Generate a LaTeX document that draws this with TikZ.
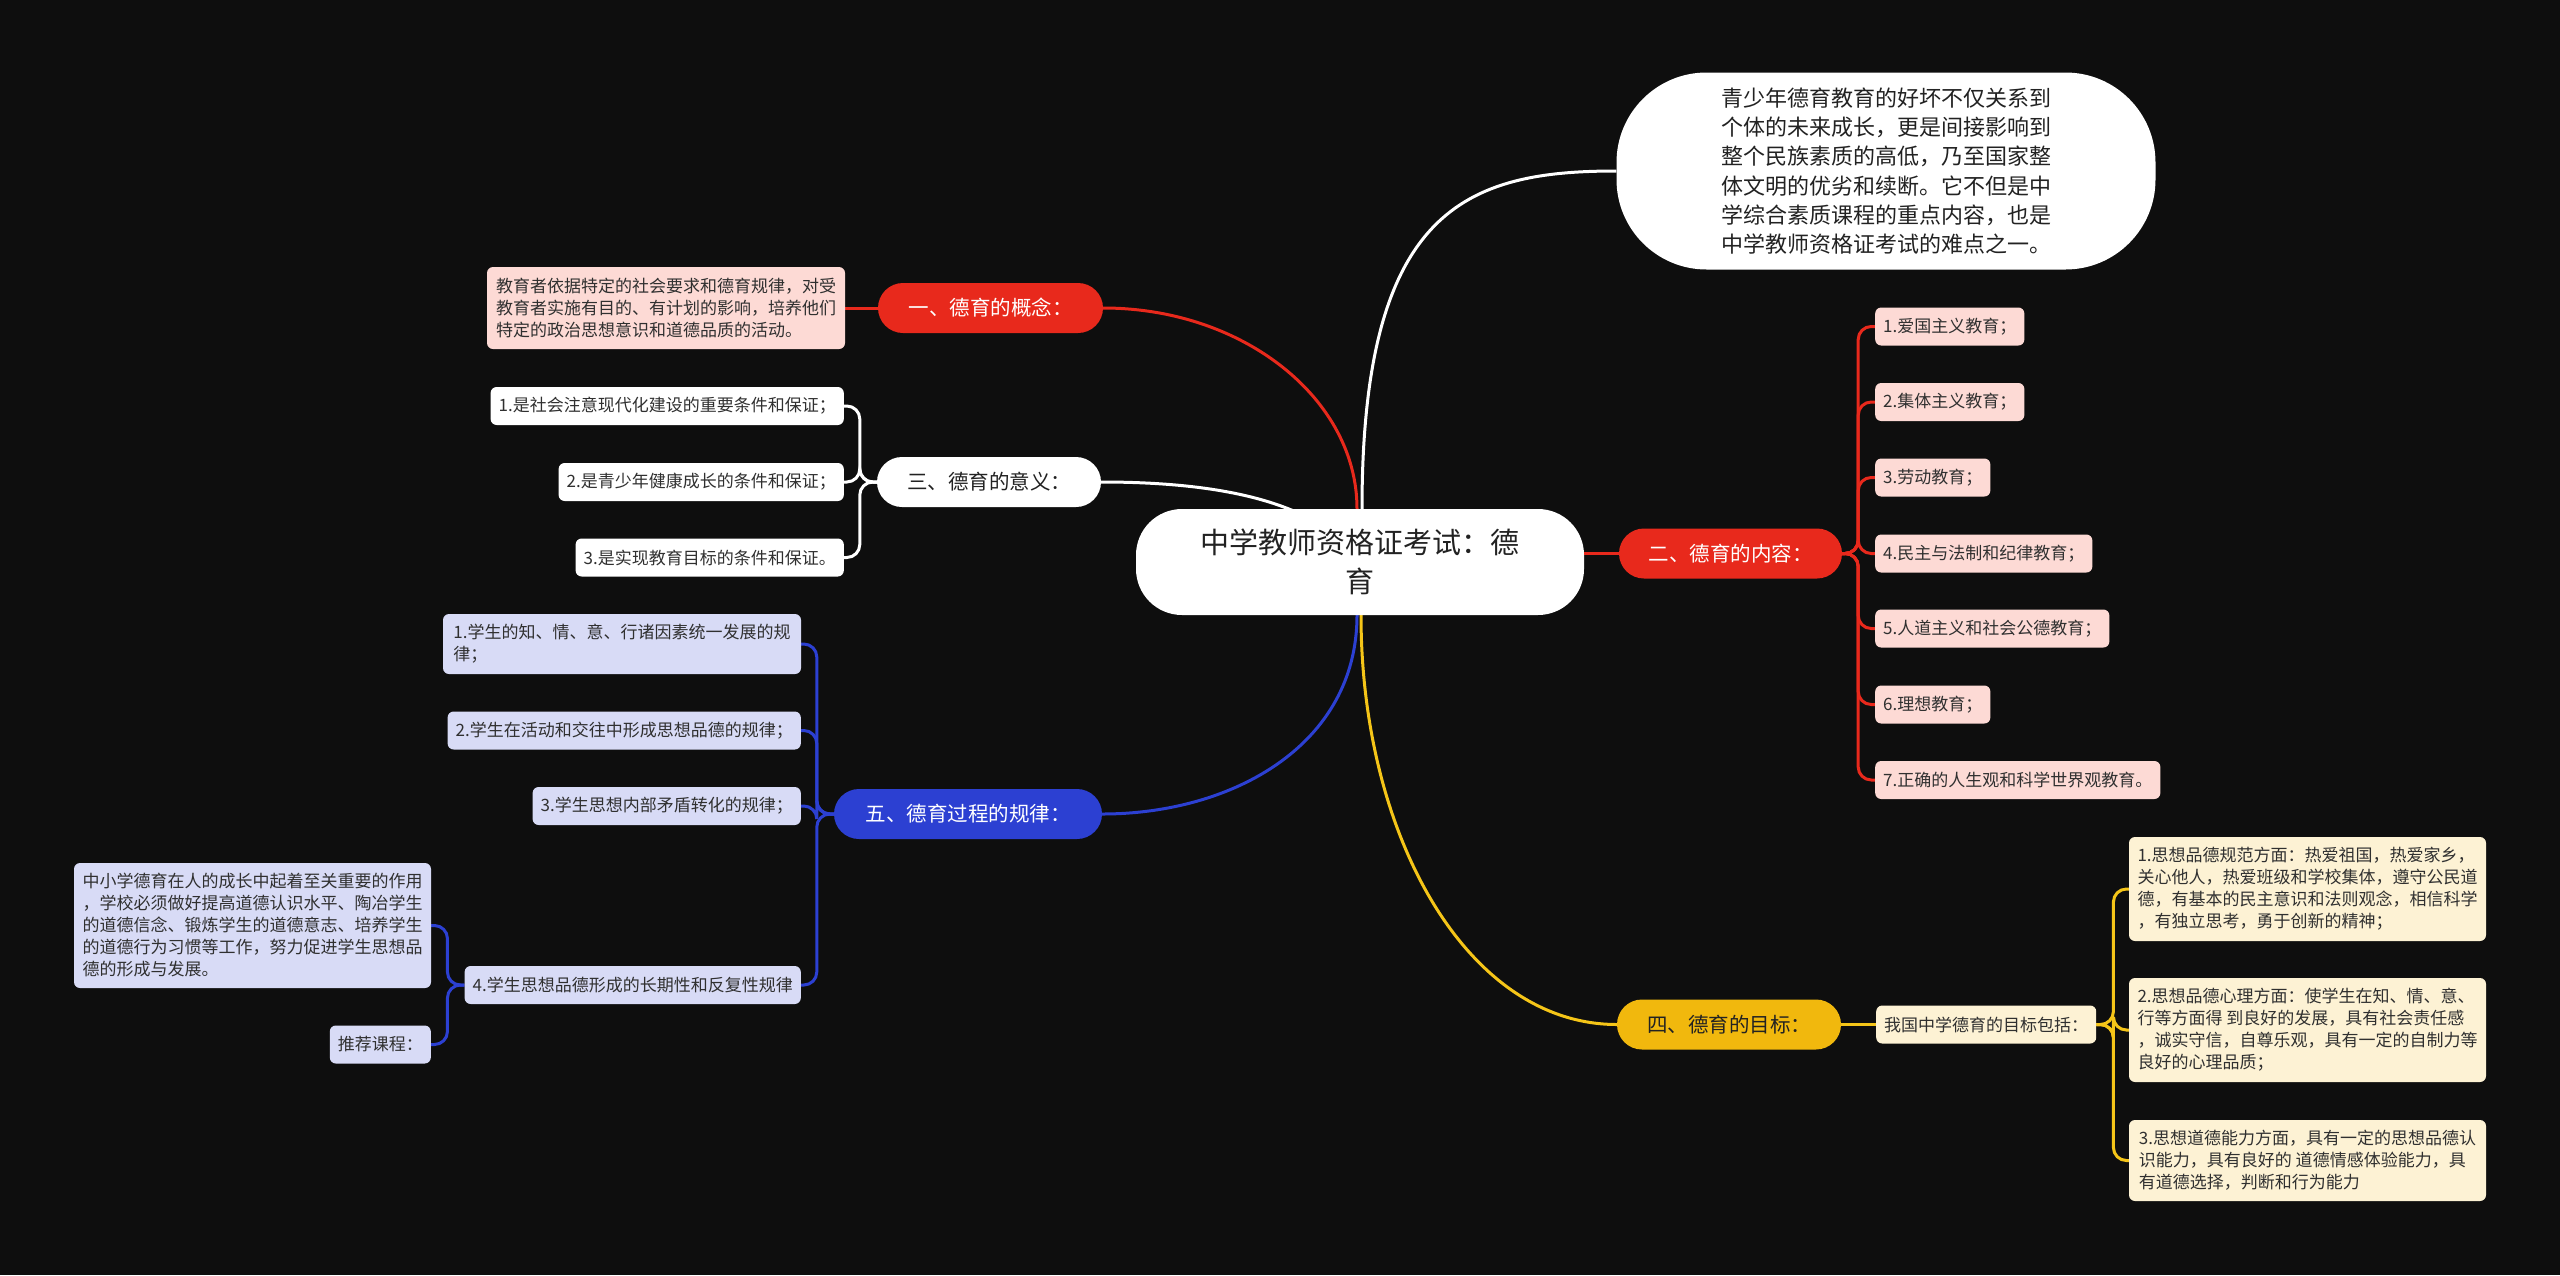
\documentclass[tikz,border=0pt]{standalone}
\usepackage{fontspec}
\setmainfont{Noto Sans CJK SC}
\usetikzlibrary{calc}
\definecolor{bgc}{HTML}{0E0E0E}
\definecolor{redone}{HTML}{E8291C}
\definecolor{pinkone}{HTML}{FDDAD5}
\definecolor{blueone}{HTML}{2C40D2}
\definecolor{lavone}{HTML}{D8DBF6}
\definecolor{goldone}{HTML}{F1B80D}
\definecolor{creamone}{HTML}{FDF2D4}
\definecolor{txtdark}{HTML}{222222}
\definecolor{txtbox}{HTML}{303030}
\definecolor{lnyellow}{HTML}{F5C518}
\pgfdeclarelayer{bglayer}
\pgfdeclarelayer{linelayer}
\pgfsetlayers{bglayer,linelayer,main}
\newcommand\mylink[4]{\draw[#1, rounded corners=13pt] (#2) -- ($(#2)+(#4,0)$) |- (#3);}
\begin{document}
\begin{tikzpicture}[x=1pt,y=-1pt,
  rootnode/.style={fill=white, text=txtdark, rounded corners=46pt, minimum width=448pt, minimum height=106pt, inner sep=0pt, align=center, font=\fontsize{29}{39}\selectfont},
  topnode/.style={fill=white, text=txtdark, rounded corners=90pt, minimum width=539pt, minimum height=197pt, inner sep=0pt, align=left, font=\fontsize{22}{29.3}\selectfont},
  lvone/.style={rounded corners=25pt, minimum height=50pt, inner sep=0pt, font=\fontsize{20.5}{24}\selectfont},
  leaf/.style={rounded corners=6pt, inner xsep=8pt, inner ysep=0pt, minimum height=38pt, align=left, text=txtbox, font=\fontsize{17}{22}\selectfont},
  lnred/.style={draw=redone, line width=3pt},
  lnwhite/.style={draw=white, line width=3pt},
  lnblue/.style={draw=blueone, line width=3pt},
  lngold/.style={draw=lnyellow, line width=3pt}
]
\useasboundingbox (0,0) rectangle (2560,1275);
\begin{pgfonlayer}{bglayer}
\fill[bgc] (0,0) rectangle (2560,1275);
\end{pgfonlayer}

% root and top note
\node[rootnode] (root) at (1360,562) {中学教师资格证考试：德\\育};
\node[topnode] (top) at (1886,171) {青少年德育教育的好坏不仅关系到\\个体的未来成长，更是间接影响到\\整个民族素质的高低，乃至国家整\\体文明的优劣和续断。它不但是中\\学综合素质课程的重点内容，也是\\中学教师资格证考试的难点之一。};

% level one
\node[lvone, fill=redone, text=white, minimum width=225pt] (yi) at (990.5,308) {一、德育的概念：};
\node[lvone, fill=white, text=txtdark, minimum width=224pt] (san) at (989,482) {三、德育的意义：};
\node[lvone, fill=blueone, text=white, minimum width=268pt] (wu) at (968,814) {五、德育过程的规律：};
\node[lvone, fill=redone, text=white, minimum width=223pt] (er) at (1730.5,553.5) {二、德育的内容：};
\node[lvone, fill=goldone, text=txtdark, minimum width=224pt] (si) at (1729,1024.5) {四、德育的目标：};

% concept
\node[leaf, fill=pinkone, minimum width=358pt, minimum height=82pt] (pk) at (666,308) {教育者依据特定的社会要求和德育规律，对受\\教育者实施有目的、有计划的影响，培养他们\\特定的政治思想意识和道德品质的活动。};

% meaning
\node[leaf, fill=white, anchor=east] (ma) at (844,406) {1.是社会注意现代化建设的重要条件和保证；};
\node[leaf, fill=white, anchor=east] (mb) at (844,482) {2.是青少年健康成长的条件和保证；};
\node[leaf, fill=white, anchor=east] (mc) at (844,557.5) {3.是实现教育目标的条件和保证。};

% content
\node[leaf, fill=pinkone, anchor=west] (ca) at (1875,326.5) {1.爱国主义教育；};
\node[leaf, fill=pinkone, anchor=west] (cb) at (1875,402) {2.集体主义教育；};
\node[leaf, fill=pinkone, anchor=west] (cc) at (1875,477.5) {3.劳动教育；};
\node[leaf, fill=pinkone, anchor=west] (cd) at (1875,553.5) {4.民主与法制和纪律教育；};
\node[leaf, fill=pinkone, anchor=west] (ce) at (1875,628.5) {5.人道主义和社会公德教育；};
\node[leaf, fill=pinkone, anchor=west] (cf) at (1875,704.5) {6.理想教育；};
\node[leaf, fill=pinkone, anchor=west] (cg) at (1875,780) {7.正确的人生观和科学世界观教育。};

% process laws
\node[leaf, fill=lavone, minimum width=358pt, minimum height=60pt] (wa) at (622,644) {1.学生的知、情、意、行诸因素统一发展的规\\律；};
\node[leaf, fill=lavone, anchor=east] (wb) at (801,730.5) {2.学生在活动和交往中形成思想品德的规律；};
\node[leaf, fill=lavone, anchor=east] (wc) at (801,806) {3.学生思想内部矛盾转化的规律；};
\node[leaf, fill=lavone, anchor=east] (wd) at (801,985) {4.学生思想品德形成的长期性和反复性规律};
\node[leaf, fill=lavone, minimum width=357pt, minimum height=125pt] (wda) at (252.5,925.5) {中小学德育在人的成长中起着至关重要的作用\\，学校必须做好提高道德认识水平、陶冶学生\\的道德信念、锻炼学生的道德意志、培养学生\\的道德行为习惯等工作，努力促进学生思想品\\德的形成与发展。};
\node[leaf, fill=lavone, anchor=east] (wdb) at (431,1044.5) {推荐课程：};

% goals
\node[leaf, fill=creamone, anchor=west] (ga) at (1876,1024.5) {我国中学德育的目标包括：};
\node[leaf, fill=creamone, minimum width=357pt, minimum height=104pt] (gb) at (2307.5,889) {1.思想品德规范方面：热爱祖国，热爱家乡，\\关心他人，热爱班级和学校集体，遵守公民道\\德，有基本的民主意识和法则观念，相信科学\\，有独立思考，勇于创新的精神；};
\node[leaf, fill=creamone, minimum width=357pt, minimum height=104pt] (gc) at (2307.5,1030) {2.思想品德心理方面：使学生在知、情、意、\\行等方面得~到良好的发展，具有社会责任感\\，诚实守信，自尊乐观，具有一定的自制力等\\良好的心理品质；};
\node[leaf, fill=creamone, minimum width=357pt, minimum height=81pt] (gd) at (2307.5,1160.5) {3.思想道德能力方面，具有一定的思想品德认\\识能力，具有良好的~道德情感体验能力，具\\有道德选择，判断和行为能力};

\begin{pgfonlayer}{linelayer}
% main branches
\draw[lnred] ($(root.north)+(-3,0)$) .. controls ($(root.north)+(-3,-110)$) and ($(yi.east)+(140,0)$) .. (yi.east);
\draw[lnwhite] ($(root.north)+(2,0)$) .. controls ($(root.north)+(2,-300)$) and ($(top.west)+(-150,0)$) .. (top.west);
\draw[lnwhite] (root.center) .. controls ($(root.center)+(-40,-60)$) and ($(san.east)+(120,0)$) .. (san.east);
\draw[lnred] (er.west) -- (er.west -| root.center);
\draw[lnblue] ($(root.south)+(-3,0)$) .. controls ($(root.south)+(-3,130)$) and ($(wu.east)+(130,0)$) .. (wu.east);
\draw[lngold] ($(root.south)+(1,0)$) .. controls ($(root.south)+(1,220)$) and ($(si.west)+(-150,0)$) .. (si.west);
% concept
\draw[lnred] (yi.west) -- (pk.east);
% meaning
\mylink{lnwhite}{san.west}{ma.east}{-17}
\mylink{lnwhite}{san.west}{mb.east}{-17}
\mylink{lnwhite}{san.west}{mc.east}{-17}
% content
\mylink{lnred}{er.east}{ca.west}{16}
\mylink{lnred}{er.east}{cb.west}{16}
\mylink{lnred}{er.east}{cc.west}{16}
\mylink{lnred}{er.east}{cd.west}{16}
\mylink{lnred}{er.east}{ce.west}{16}
\mylink{lnred}{er.east}{cf.west}{16}
\mylink{lnred}{er.east}{cg.west}{16}
% process laws
\mylink{lnblue}{wu.west}{wa.east}{-17}
\mylink{lnblue}{wu.west}{wb.east}{-17}
\mylink{lnblue}{wu.west}{wc.east}{-17}
\mylink{lnblue}{wu.west}{wd.east}{-17}
\mylink{lnblue}{wd.west}{wda.east}{-17}
\mylink{lnblue}{wd.west}{wdb.east}{-17}
% goals
\draw[lngold] (si.east) -- (ga.west);
\mylink{lngold}{ga.east}{gb.west}{17}
\mylink{lngold}{ga.east}{gc.west}{17}
\mylink{lngold}{ga.east}{gd.west}{17}
\end{pgfonlayer}
\end{tikzpicture}
\end{document}
